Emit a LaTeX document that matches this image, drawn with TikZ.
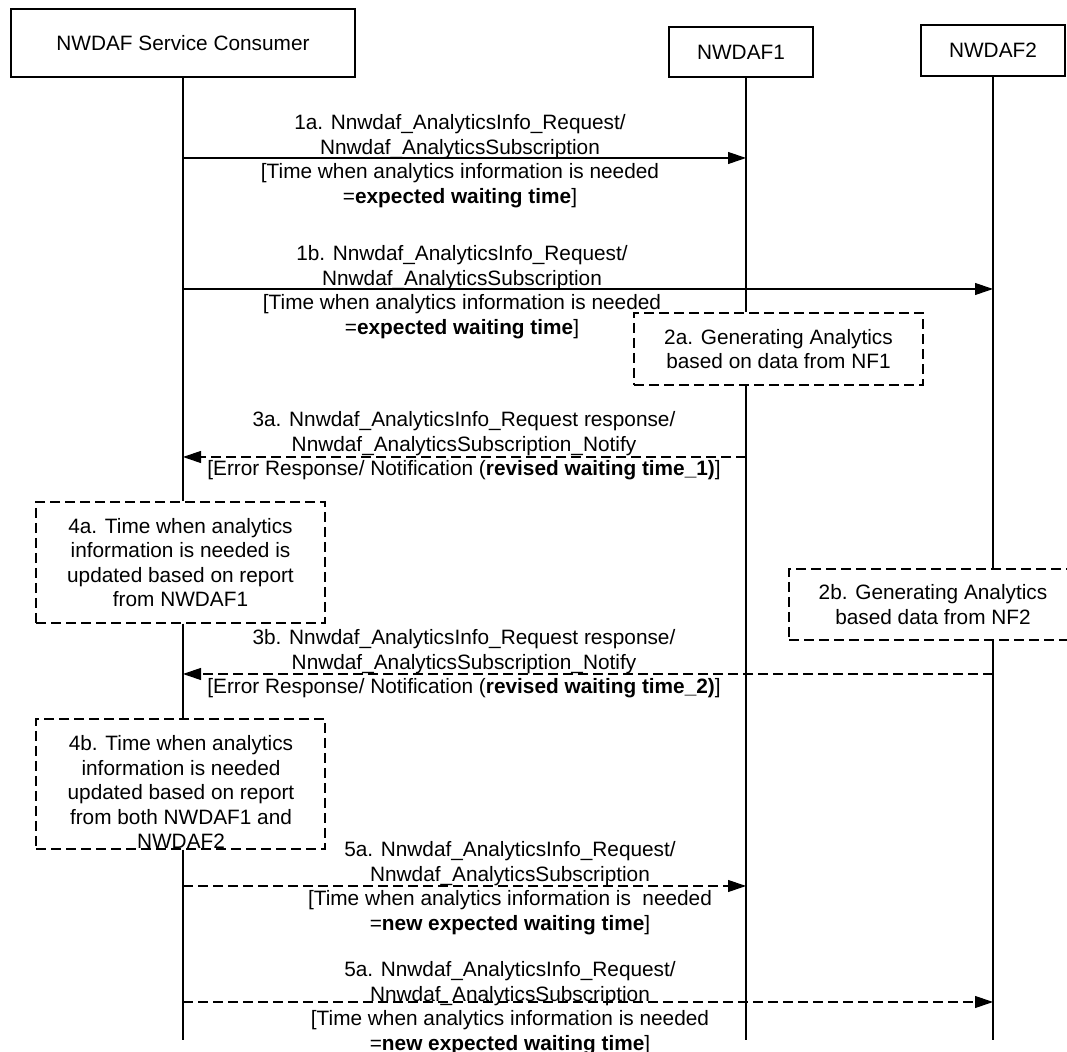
\documentclass[tikz,border=0pt]{standalone}
\usepackage{fontspec}
\setmainfont{Liberation Sans}
\usetikzlibrary{arrows.meta}
\begin{document}
\begin{tikzpicture}[x=0.5pt,y=-0.5pt,
  every node/.style={font=\fontsize{10.4}{12.25}\selectfont},
  lbl/.style={align=center, inner sep=0pt},
  hdr/.style={draw, line width=0.55pt, inner sep=0pt},
  procbox/.style={draw, line width=0.55pt, dash pattern=on 5pt off 2.5pt, align=center, inner sep=0pt},
  life/.style={line width=0.55pt},
  msg/.style={line width=0.55pt, -{Triangle[length=9pt,width=6pt]}},
  dmsg/.style={msg, dash pattern=on 5pt off 2.5pt}]
\useasboundingbox (0,0) rectangle (1067,1052);
\clip (0,0) rectangle (1067,1052);

% header boxes
\node[hdr, minimum width=172pt, minimum height=34pt] (cons) at (183,43) {NWDAF Service Consumer};
\node[hdr, minimum width=72pt, minimum height=25pt] (nw1) at (741,52) {NWDAF1};
\node[hdr, minimum width=72pt, minimum height=25.5pt] (nw2) at (993,50.5) {NWDAF2};

% process boxes
\node[procbox, minimum width=144.5pt, minimum height=36pt] (p2a) at (778.5,349) {2a. Generating Analytics\\based on data from NF1};
\node[procbox, minimum width=144pt, minimum height=35.5pt] (p2b) at (933,604.5) {2b. Generating Analytics\\based data from NF2};
\node[procbox, minimum width=144.5pt, minimum height=60.5pt] (p4a) at (180.5,562.5) {4a. Time when analytics\\information is needed is\\updated based on report\\from NWDAF1};
\node[procbox, minimum width=144.5pt, minimum height=65pt] (p4b) at (180.5,784) {};
\node[lbl] (t4b) at (181,792) {4b. Time when analytics\\information is needed\\updated based on report\\from both NWDAF1 and\\NWDAF2};

% lifelines
\coordinate (cend) at (183,1040);
\coordinate (n1top) at (746,77);
\coordinate (n1end) at (746,1040);
\coordinate (n2end) at (993,1040);
\draw[life] (cons.south) -- (cons.south |- p4a.north);
\draw[life] (cons.south |- p4a.south) -- (cons.south |- p4b.north);
\draw[life] (cons.south |- p4b.south) -- (cend);
\draw[life] (n1top) -- (n1top |- p2a.north);
\draw[life] (n1top |- p2a.south) -- (n1end);
\draw[life] (nw2.south) -- (nw2.south |- p2b.north);
\draw[life] (nw2.south |- p2b.south) -- (n2end);

% messages
\coordinate (m1a) at (183,158);
\coordinate (m1b) at (183,289);
\coordinate (m3a) at (183,457);
\coordinate (m3b) at (183,674);
\coordinate (m5a) at (183,886);
\coordinate (m5b) at (183,1002);
\draw[msg] (m1a) -- (m1a -| n1top);
\draw[msg] (m1b) -- (m1b -| n2end);
\draw[dmsg] (m3a -| n1top) -- (m3a);
\draw[dmsg] (m3b -| n2end) -- (m3b);
\draw[dmsg] (m5a) -- (m5a -| n1top);
\draw[dmsg] (m5b) -- (m5b -| n2end);

% labels
\node[lbl] (l1a) at (460,161) {1a. Nnwdaf\_AnalyticsInfo\_Request/\\Nnwdaf\_AnalyticsSubscription\\{[}Time when analytics information is needed\\=\textbf{expected waiting time}]};
\node[lbl] (l1b) at (462,292) {1b. Nnwdaf\_AnalyticsInfo\_Request/\\Nnwdaf\_AnalyticsSubscription\\{[}Time when analytics information is needed\\=\textbf{expected waiting time}]};
\node[lbl] (l3a) at (464,446) {3a. Nnwdaf\_AnalyticsInfo\_Request response/\\Nnwdaf\_AnalyticsSubscription\_Notify\\{[}Error Response/ Notification (\textbf{revised waiting time\_1)}]};
\node[lbl] (l3b) at (464,664) {3b. Nnwdaf\_AnalyticsInfo\_Request response/\\Nnwdaf\_AnalyticsSubscription\_Notify\\{[}Error Response/ Notification (\textbf{revised waiting time\_2)}]};
\node[lbl] (l5a) at (510,888) {5a. Nnwdaf\_AnalyticsInfo\_Request/\\Nnwdaf\_AnalyticsSubscription\\{[}Time when analytics information is\ \ needed\\=\textbf{new expected waiting time}]};
\node[lbl] (l5b) at (510,1008) {5a. Nnwdaf\_AnalyticsInfo\_Request/\\Nnwdaf\_AnalyticsSubscription\\{[}Time when analytics information is needed\\=\textbf{new expected waiting time}]};
\end{tikzpicture}
\end{document}
